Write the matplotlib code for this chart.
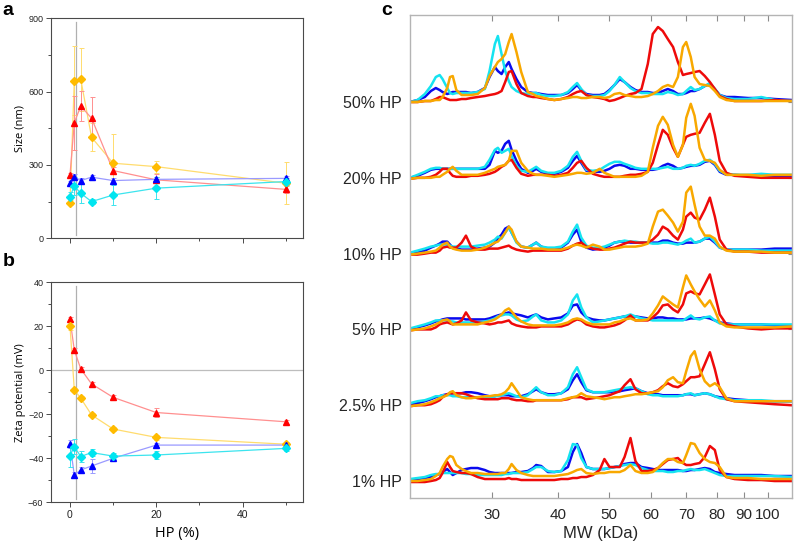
import matplotlib.pyplot as plt
from matplotlib.ticker import FixedLocator, MultipleLocator

plt.rcParams["font.family"] = ["Liberation Sans", "DejaVu Sans"]

# ---- panels a / b : DLS size and zeta potential vs HP content ----
hp = [0, 1, 2.5, 5, 10, 20, 50]

size_red = [259, 473, 541, 491, 277, 239, 200]
size_red_err = [10, 110, 60, 85, 15, 25, 15]
size_orange = [146, 645, 650, 413, 307, 293, 225]
size_orange_err = [10, 140, 130, 58, 120, 25, 85]
size_blue = [225, 252, 236, 250, 236, 241, 245]
size_blue_err = [10, 10, 10, 8, 10, 10, 10]
size_cyan = [170, 214, 184, 150, 177, 205, 232]
size_cyan_err = [20, 35, 40, 10, 40, 45, 15]

zeta_red = [23.3, 9.2, 0.6, -6.2, -12.3, -19.2, -23.4]
zeta_red_err = [1, 1, 1, 1, 1, 2, 1]
zeta_orange = [20.2, -8.9, -12.7, -20.3, -26.7, -30.5, -33.6]
zeta_orange_err = [2, 1, 1, 1, 1, 1, 1]
zeta_blue = [-33.5, -47.6, -45.3, -43.5, -40.0, -34.0, -34.0]
zeta_blue_err = [2, 1.5, 1.5, 3, 1, 1, 1]
zeta_cyan = [-38.9, -34.7, -39.2, -37.4, -39.0, -38.5, -35.5]
zeta_cyan_err = [5, 3.5, 2.5, 1.5, 1.5, 2, 1]

# ---- panel c : MW traces (intensity, a.u.) ----
mw = [21.0, 21.7, 22.4, 23.0, 23.5, 23.9, 24.2, 24.7, 25.0, 25.3,
      25.7, 26.3, 26.8, 27.4, 28.2, 29.1, 29.7, 30.4, 30.8, 31.3,
      31.8, 32.3, 32.7, 33.4, 34.1, 35.1, 35.9, 36.4, 37.2, 38.3,
      39.4, 40.6, 41.8, 42.7, 43.5, 44.3, 45.3, 46.6, 48.0, 49.0,
      50.1, 51.2, 52.4, 53.5, 54.9, 56.1, 57.6, 59.2, 60.5, 61.9,
      63.2, 64.6, 66.1, 67.5, 69.0, 70.0, 71.4, 72.6, 74.2, 75.9,
      77.6, 79.3, 81.0, 83.4, 86.4, 91.6, 97.1, 102.9, 110.9]

hp50_blue = [0, 2, 5, 11, 14, 12, 10, 8, 9, 10,
             10, 10, 10, 9, 10, 14, 25, 35, 31, 28,
             35, 40, 33, 23, 15, 10, 9, 9, 8, 7,
             7, 7, 9, 13, 17, 12, 8, 7, 7, 8,
             12, 17, 23, 20, 15, 12, 10, 10, 9, 9,
             11, 13, 11, 8, 8, 9, 11, 11, 13, 16,
             18, 13, 7, 5, 5, 4, 4, 3, 2]
hp50_cyan = [0, 2, 8, 16, 25, 27, 23, 14, 9, 8,
             9, 9, 9, 9, 10, 13, 31, 58, 66, 48,
             31, 21, 15, 11, 9, 8, 9, 9, 7, 6,
             6, 7, 10, 15, 19, 13, 7, 6, 6, 7,
             11, 17, 25, 20, 14, 11, 9, 9, 8, 8,
             8, 10, 9, 7, 8, 11, 15, 12, 13, 16,
             19, 13, 7, 4, 3, 3, 5, 2, 1]
hp50_red = [0, 0, 1, 1, 3, 5, 5, 3, 2, 2,
            2, 3, 3, 4, 5, 6, 7, 8, 9, 11,
            20, 30, 31, 18, 9, 6, 5, 5, 4, 3,
            2, 3, 5, 8, 10, 11, 7, 5, 4, 3,
            1, 2, 4, 6, 8, 9, 13, 38, 68, 75,
            71, 63, 55, 40, 27, 28, 29, 30, 31, 26,
            20, 13, 6, 3, 1, 1, 1, 2, 1]
hp50_orange = [0, 0, 1, 1, 2, 2, 5, 14, 25, 26,
               12, 7, 7, 7, 8, 14, 26, 35, 40, 43,
               48, 60, 68, 50, 30, 10, 8, 6, 5, 3,
               2, 3, 4, 5, 5, 4, 4, 5, 5, 4,
               5, 8, 9, 7, 6, 5, 5, 6, 8, 11,
               15, 17, 15, 25, 55, 60, 45, 25, 18, 17,
               16, 11, 5, 2, 1, 1, 1, 1, 1]

hp20_blue = [0, 2, 5, 8, 9, 9, 9, 9, 9, 9,
             9, 9, 9, 9, 9, 9, 13, 27, 25, 27,
             34, 37, 28, 17, 9, 5, 7, 9, 6, 4,
             4, 6, 10, 17, 22, 15, 7, 6, 6, 7,
             9, 12, 13, 12, 9, 9, 8, 8, 8, 9,
             12, 14, 12, 9, 10, 11, 12, 12, 13, 16,
             17, 13, 6, 3, 3, 2, 2, 2, 1]
hp20_cyan = [0, 3, 6, 9, 10, 10, 9, 9, 9, 9,
             9, 9, 9, 9, 9, 11, 18, 28, 30, 25,
             27, 29, 22, 12, 7, 6, 9, 11, 7, 5,
             5, 7, 12, 21, 26, 17, 8, 7, 8, 11,
             14, 16, 16, 14, 12, 10, 9, 9, 9, 9,
             10, 11, 9, 9, 10, 12, 13, 12, 14, 17,
             18, 14, 7, 4, 3, 3, 4, 3, 3]
hp20_red = [-1, 0, 0, 1, 3, 6, 9, 9, 5, 2,
            1, 1, 1, 2, 2, 3, 4, 6, 8, 11,
            13, 17, 18, 10, 4, 2, 3, 3, 3, 3,
            2, 3, 5, 10, 15, 17, 10, 4, 2, 1,
            1, 1, 1, 2, 3, 3, 4, 6, 15, 33,
            48, 43, 30, 21, 33, 41, 43, 44, 45, 55,
            64, 43, 17, 5, 2, 1, 0, 0, 0]
hp20_orange = [-1, 0, 0, 0, 1, 1, 3, 6, 9, 11,
               7, 3, 3, 3, 3, 5, 7, 9, 11, 12,
               13, 17, 27, 27, 15, 7, 4, 3, 3, 2,
               1, 2, 3, 4, 5, 5, 4, 5, 9, 5,
               3, 1, 1, 1, 1, 1, 2, 6, 30, 52,
               61, 53, 33, 21, 33, 60, 74, 62, 30, 18,
               17, 15, 8, 3, 3, 3, 2, 3, 3]

hp10_blue = [0, 1, 3, 6, 8, 10, 12, 12, 9, 6,
             5, 4, 4, 4, 5, 6, 7, 11, 15, 19,
             25, 27, 21, 12, 7, 6, 9, 11, 7, 5,
             5, 6, 11, 19, 24, 12, 6, 4, 5, 6,
             8, 11, 12, 12, 11, 11, 11, 11, 11, 11,
             13, 13, 11, 10, 10, 11, 11, 11, 12, 15,
             15, 11, 6, 4, 4, 4, 4, 5, 5]
hp10_cyan = [1, 3, 5, 7, 8, 9, 9, 9, 8, 7,
             7, 7, 7, 7, 8, 9, 11, 14, 17, 15,
             21, 26, 21, 11, 7, 6, 9, 11, 7, 6,
             6, 7, 12, 22, 29, 16, 8, 6, 6, 7,
             9, 11, 12, 13, 12, 12, 11, 11, 10, 10,
             11, 11, 10, 9, 11, 13, 15, 11, 12, 15,
             17, 12, 6, 4, 4, 4, 3, 3, 3]
hp10_red = [-1, -1, 0, 1, 1, 3, 6, 7, 6, 6,
            6, 11, 18, 7, 4, 4, 5, 5, 5, 6,
            7, 8, 6, 4, 3, 2, 3, 3, 3, 3,
            3, 3, 5, 8, 10, 11, 7, 5, 4, 4,
            5, 6, 8, 10, 12, 11, 11, 11, 14, 19,
            27, 24, 18, 14, 24, 37, 41, 36, 34, 44,
            56, 37, 14, 4, 2, 2, 1, 1, 1]
hp10_orange = [-1, 0, 1, 2, 3, 6, 9, 11, 7, 5,
               4, 3, 3, 3, 4, 6, 8, 11, 12, 16,
               21, 27, 24, 12, 7, 6, 5, 5, 5, 4,
               4, 4, 6, 8, 9, 8, 6, 9, 7, 4,
               4, 5, 6, 7, 7, 7, 8, 10, 27, 42,
               44, 38, 31, 22, 32, 61, 67, 49, 27, 18,
               18, 15, 7, 3, 2, 2, 2, 1, 1]

hp5_blue = [0, 2, 4, 6, 8, 9, 10, 11, 11, 11,
            11, 11, 10, 10, 10, 10, 11, 13, 14, 15,
            16, 17, 16, 15, 14, 12, 14, 15, 12, 10,
            11, 12, 16, 24, 25, 17, 12, 10, 9, 9,
            10, 11, 12, 13, 13, 13, 12, 11, 11, 12,
            12, 11, 11, 10, 10, 10, 11, 11, 11, 12,
            11, 9, 7, 6, 5, 5, 5, 4, 4]
hp5_cyan = [1, 3, 5, 7, 9, 9, 9, 9, 8, 8,
            7, 7, 7, 7, 7, 8, 9, 11, 13, 14,
            15, 15, 14, 10, 8, 9, 13, 15, 9, 7,
            7, 9, 15, 29, 35, 22, 12, 7, 8, 9,
            10, 11, 12, 13, 15, 13, 11, 10, 9, 9,
            9, 9, 9, 9, 9, 11, 14, 11, 10, 12,
            13, 9, 6, 5, 5, 5, 5, 5, 5]
hp5_red = [-1, 0, 0, 0, 2, 5, 6, 7, 6, 5,
           6, 9, 17, 9, 7, 6, 5, 6, 7, 7,
           8, 9, 6, 4, 3, 2, 2, 2, 3, 3,
           3, 3, 5, 8, 10, 9, 5, 3, 2, 2,
           3, 4, 6, 9, 14, 9, 9, 9, 12, 17,
           24, 25, 20, 17, 25, 36, 38, 36, 35, 45,
           55, 35, 15, 5, 3, 1, 0, 1, 1]
hp5_orange = [-1, 0, 1, 3, 5, 7, 9, 10, 8, 5,
              5, 5, 5, 5, 5, 7, 8, 10, 12, 15,
              19, 21, 18, 12, 8, 5, 4, 4, 4, 4,
              4, 5, 7, 10, 11, 10, 7, 5, 5, 5,
              5, 7, 8, 10, 11, 9, 9, 10, 16, 24,
              33, 29, 25, 22, 42, 54, 45, 38, 30, 23,
              29, 19, 7, 3, 2, 2, 2, 2, 3]

hp2_5_blue = [1, 2, 4, 6, 8, 9, 10, 11, 11, 12,
              12, 12, 13, 13, 12, 10, 9, 9, 10, 10,
              10, 10, 9, 9, 9, 11, 14, 16, 13, 11,
              11, 12, 16, 25, 31, 23, 15, 13, 13, 13,
              13, 14, 14, 15, 16, 17, 14, 12, 11, 11,
              10, 10, 10, 10, 10, 11, 11, 10, 11, 12,
              11, 9, 8, 7, 6, 5, 4, 4, 4]
hp2_5_cyan = [2, 4, 5, 7, 9, 9, 10, 10, 10, 9,
              9, 8, 8, 8, 8, 8, 8, 9, 9, 10,
              11, 12, 11, 9, 8, 10, 15, 18, 13, 10,
              10, 12, 18, 31, 38, 28, 16, 13, 13, 13,
              14, 15, 16, 17, 18, 17, 14, 11, 10, 10,
              9, 9, 9, 9, 10, 11, 12, 10, 11, 12,
              11, 9, 7, 6, 5, 5, 5, 4, 4]
hp2_5_red = [-1, 0, 0, 1, 3, 5, 8, 11, 12, 12,
             12, 12, 11, 9, 7, 6, 6, 6, 6, 7,
             7, 7, 6, 5, 5, 4, 4, 5, 5, 5,
             5, 5, 6, 8, 8, 8, 6, 7, 8, 9,
             10, 12, 14, 20, 26, 16, 12, 12, 13, 15,
             19, 22, 19, 18, 21, 24, 28, 28, 29, 41,
             53, 36, 16, 6, 4, 3, 2, 1, 0]
hp2_5_orange = [-1, 0, 1, 3, 5, 7, 8, 10, 13, 14,
                10, 8, 7, 7, 8, 9, 9, 10, 10, 11,
                13, 17, 22, 15, 8, 6, 5, 5, 5, 5,
                5, 5, 7, 8, 9, 12, 9, 8, 7, 6,
                7, 8, 8, 9, 10, 11, 11, 12, 13, 14,
                18, 25, 28, 23, 22, 34, 49, 54, 36, 24,
                19, 22, 18, 7, 4, 4, 4, 4, 4]

hp1_blue = [1, 2, 3, 4, 6, 7, 9, 12, 9, 6,
            8, 11, 12, 13, 13, 11, 9, 8, 8, 8,
            8, 8, 8, 9, 9, 10, 13, 16, 15, 9,
            9, 10, 14, 29, 37, 28, 14, 12, 12, 12,
            13, 14, 15, 17, 18, 18, 14, 13, 12, 11,
            11, 11, 11, 11, 10, 10, 11, 11, 12, 13,
            12, 9, 8, 7, 6, 6, 6, 5, 5]
hp1_cyan = [2, 3, 4, 6, 7, 7, 8, 8, 8, 8,
            8, 8, 7, 7, 6, 6, 6, 6, 6, 6,
            7, 7, 8, 8, 8, 9, 12, 14, 14, 10,
            9, 10, 21, 37, 36, 23, 14, 12, 12, 12,
            13, 14, 15, 16, 17, 16, 13, 11, 10, 10,
            10, 9, 9, 10, 10, 11, 12, 11, 11, 12,
            10, 8, 6, 5, 5, 5, 5, 5, 4]
hp1_red = [-1, -1, -1, 0, 1, 3, 8, 19, 14, 10,
           9, 8, 8, 7, 4, 2, 2, 2, 2, 2,
           2, 3, 2, 2, 1, 1, 1, 1, 1, 1,
           1, 2, 2, 3, 3, 4, 4, 6, 11, 22,
           14, 14, 14, 24, 43, 20, 10, 10, 11, 13,
           17, 21, 22, 23, 18, 16, 16, 17, 18, 24,
           35, 31, 11, 4, 2, 1, 1, 0, 0]
hp1_orange = [0, 0, 1, 2, 5, 8, 14, 22, 25, 24,
              16, 12, 10, 8, 8, 7, 7, 7, 7, 8,
              8, 12, 17, 11, 8, 6, 5, 5, 5, 5,
              5, 6, 7, 9, 11, 12, 8, 7, 8, 8,
              9, 9, 9, 11, 16, 10, 8, 8, 9, 13,
              18, 22, 22, 19, 18, 26, 38, 37, 28, 22,
              19, 18, 14, 4, 3, 3, 2, 2, 2]

row_labels = ["1% HP", "2.5% HP", "5% HP", "10% HP", "20% HP", "50% HP"]
rows = [
    (hp1_blue, hp1_cyan, hp1_red, hp1_orange),
    (hp2_5_blue, hp2_5_cyan, hp2_5_red, hp2_5_orange),
    (hp5_blue, hp5_cyan, hp5_red, hp5_orange),
    (hp10_blue, hp10_cyan, hp10_red, hp10_orange),
    (hp20_blue, hp20_cyan, hp20_red, hp20_orange),
    (hp50_blue, hp50_cyan, hp50_red, hp50_orange),
]
mw_ticks = [30, 40, 50, 60, 70, 80, 90, 100]

# colours
C_RED, C_ORANGE, C_BLUE, C_CYAN = "#ff0000", "#ffbb00", "#0000ff", "#00e5f0"
L_RED, L_ORANGE, L_BLUE, L_CYAN = "#ff8f8f", "#ffdc6e", "#9a9aff", "#3ce4ee"
T_BLUE, T_CYAN, T_RED, T_ORANGE = "#0a0aee", "#15e3f0", "#ee0a0a", "#f8a800"

fig = plt.figure(figsize=(8, 5.48), dpi=100)
ax_a = fig.add_axes([0.06375, 0.5652, 0.315, 0.4015])
ax_b = fig.add_axes([0.06375, 0.0834, 0.315, 0.4015])
ax_c = fig.add_axes([0.5125, 0.0912, 0.4775, 0.8814])


def dls_series(ax, y, err, mcol, lcol, marker, ms):
    ax.errorbar(hp, y, yerr=err, fmt="none", ecolor=lcol, elinewidth=0.7,
                capsize=1.8, capthick=0.7, zorder=2)
    ax.plot(hp, y, color=lcol, lw=0.9, zorder=2)
    ax.plot(hp, y, linestyle="none", marker=marker, ms=ms, color=mcol,
            mec=mcol, zorder=3)


def style_small(ax):
    for sp in ax.spines.values():
        sp.set_color("#4a4a4a")
        sp.set_linewidth(0.8)
    ax.set_xlim(-4.4, 54)
    ax.xaxis.set_major_locator(MultipleLocator(20))
    ax.xaxis.set_minor_locator(MultipleLocator(10))
    ax.tick_params(which="both", direction="out", colors="#4a4a4a",
                   labelcolor="#222222", labelsize=6.5, width=0.7)
    ax.tick_params(which="major", length=3.5, pad=2)
    ax.tick_params(which="minor", length=2)
    ax.axvline(1.5, ymin=0.015, ymax=0.985, color="#b0b0b0", lw=0.9, zorder=1)


# panel a
dls_series(ax_a, size_orange, size_orange_err, C_ORANGE, L_ORANGE, "D", 4.2)
dls_series(ax_a, size_red, size_red_err, C_RED, L_RED, "^", 5)
dls_series(ax_a, size_blue, size_blue_err, C_BLUE, L_BLUE, "^", 5)
dls_series(ax_a, size_cyan, size_cyan_err, C_CYAN, L_CYAN, "D", 4.2)
style_small(ax_a)
ax_a.set_ylim(0, 900)
ax_a.yaxis.set_major_locator(MultipleLocator(300))
ax_a.yaxis.set_minor_locator(MultipleLocator(150))
ax_a.set_xticklabels([])
ax_a.set_ylabel("Size (nm)", fontsize=8, family=["Open Sans", "DejaVu Sans"])
ax_a.yaxis.set_label_coords(-0.1, 0.5)

# panel b
ax_b.axhline(0, color="#bdbdbd", lw=0.9, zorder=1)
dls_series(ax_b, zeta_red, zeta_red_err, C_RED, L_RED, "^", 5)
dls_series(ax_b, zeta_orange, zeta_orange_err, C_ORANGE, L_ORANGE, "D", 4.2)
dls_series(ax_b, zeta_blue, zeta_blue_err, C_BLUE, L_BLUE, "^", 5)
dls_series(ax_b, zeta_cyan, zeta_cyan_err, C_CYAN, L_CYAN, "D", 4.2)
style_small(ax_b)
ax_b.set_ylim(-60, 40)
ax_b.yaxis.set_major_locator(MultipleLocator(20))
ax_b.yaxis.set_minor_locator(MultipleLocator(10))
ax_b.tick_params(axis="x", labelsize=7.5)
ax_b.set_ylabel("Zeta potential (mV)", fontsize=8,
                family=["Open Sans", "DejaVu Sans"])
ax_b.yaxis.set_label_coords(-0.1, 0.5)
ax_b.set_xlabel("HP (%)", fontsize=10.5, family=["Open Sans", "DejaVu Sans"])
ax_b.xaxis.set_label_coords(0.5, -0.11)

# panel c
row_step = 75.8
for i, (blue, cyan, red, orange) in enumerate(rows):
    base = i * row_step
    for trace, col in ((blue, T_BLUE), (cyan, T_CYAN), (red, T_RED), (orange, T_ORANGE)):
        ax_c.plot(mw, [base + v for v in trace], color=col, lw=1.8,
                  solid_joinstyle="round")

ax_c.set_xscale("log")
ax_c.set_xlim(21.0, 111)
ax_c.set_ylim(-17, 466)
ax_c.xaxis.set_major_locator(FixedLocator(mw_ticks))
ax_c.xaxis.set_minor_locator(FixedLocator([]))
ax_c.set_xticklabels([str(t) for t in mw_ticks])
ax_c.set_yticks([i * row_step for i in range(len(row_labels))])
ax_c.set_yticklabels(row_labels)
ax_c.tick_params(axis="x", direction="in", top=True, length=4, width=0.8,
                 color="#8c8c8c", labelsize=11, pad=7, labelcolor="#262626")
ax_c.tick_params(axis="y", direction="in", right=True, length=3, width=0.8,
                 color="#8c8c8c", labelsize=11.5, pad=6, labelcolor="#262626")
for sp in ax_c.spines.values():
    sp.set_color("#b4b4b4")
    sp.set_linewidth(1.0)
ax_c.set_xlabel("MW (kDa)", fontsize=12, color="#262626")
ax_c.xaxis.set_label_coords(0.5, -0.058)

# panel letters
for x, y, s in ((0.003, 0.972, "a"), (0.003, 0.514, "b"), (0.476, 0.972, "c")):
    fig.text(x, y, s, fontsize=14, fontweight="bold", va="baseline")

fig.savefig("out.png", dpi=100)
